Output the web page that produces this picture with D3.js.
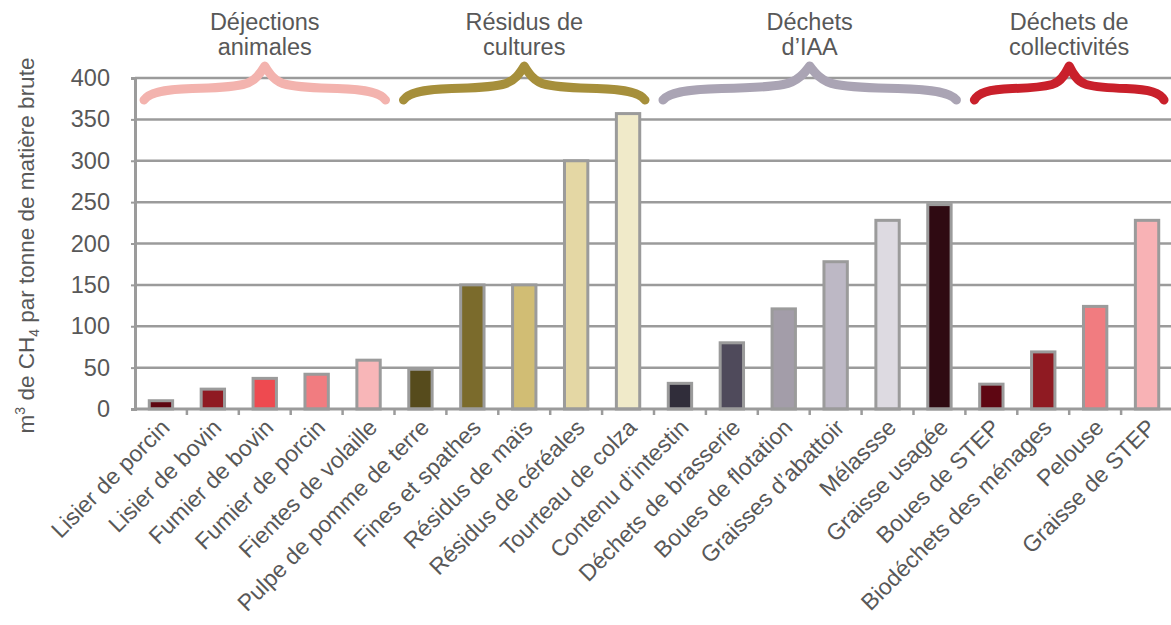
<!DOCTYPE html>
<html>
<head>
<meta charset="utf-8">
<script src="https://cdn.jsdelivr.net/npm/d3@7"></script>
<style>
  html, body { margin: 0; padding: 0; background: #fff; }
  svg { display: block; }
  text { font-family: "Liberation Sans", Arial, sans-serif; fill: #585858; }
</style>
</head>
<body>
<svg id="chart" width="1171" height="625"></svg>
<script>
// Methane potential by substrate (m³ CH4 per tonne of raw matter)
const categories = [
  "Lisier de porcin", "Lisier de bovin", "Fumier de bovin", "Fumier de porcin", "Fientes de volaille",
  "Pulpe de pomme de terre", "Fines et spathes", "Résidus de maïs", "Résidus de céréales", "Tourteau de colza",
  "Contenu d’intestin", "Déchets de brasserie", "Boues de flotation", "Graisses d’abattoir", "Mélassse", "Graisse usagée",
  "Boues de STEP", "Biodéchets des ménages", "Pelouse", "Graisse de STEP"
];
const values = [10, 24, 37, 42, 59, 48, 150, 150, 300, 357, 31, 80, 121, 178, 228, 247, 30, 69, 124, 228];
const barColors = [
  "#5e0612", "#8f1a22", "#ee4a50", "#f17c80", "#f8b6b8",
  "#564b1c", "#7b6b2c", "#d1bd74", "#e4d7a4", "#f0eac9",
  "#302d3a", "#4f4a5b", "#a39da9", "#bdb8c5", "#dddae1", "#2f0a12",
  "#5e0612", "#8f1a22", "#f17c80", "#f8b2b5"
];
const groupNames = [["Déjections", "animales"], ["Résidus de", "cultures"], ["Déchets", "d’IAA"], ["Déchets de", "collectivités"]];
const groupSizes = [5, 5, 6, 4];
const groupColors = ["#f3b3ae", "#a68f3b", "#aaa4b4", "#c9202b"];
const yTicks = [0, 50, 100, 150, 200, 250, 300, 350, 400];

const svg = d3.select("#chart");
const plotLeft = 135, plotRight = 1173, plotTop = 78, plotBottom = 409;
const grid = "#9b9b9b";
const fs = 23.5;

const x = d3.scaleBand().domain(categories).range([plotLeft, plotRight]).paddingInner(0.55).paddingOuter(0.275);
const step = x.step();
const y = d3.scaleLinear().domain([0, 400]).range([plotBottom, plotTop]);

// horizontal gridlines
svg.append("g").selectAll("line").data(yTicks.filter(d => d > 0)).join("line")
  .attr("x1", plotLeft).attr("x2", 1171)
  .attr("y1", d => y(d)).attr("y2", d => y(d))
  .attr("stroke", grid).attr("stroke-width", 2.5);

// y axis
const yAxis = svg.append("g").attr("transform", `translate(${plotLeft},0)`)
  .call(d3.axisLeft(y).tickValues(yTicks).tickSize(4).tickPadding(21));
yAxis.select(".domain").attr("stroke", grid).attr("stroke-width", 3);
yAxis.selectAll(".tick line").attr("stroke", grid).attr("stroke-width", 2);
yAxis.selectAll(".tick text").attr("font-size", fs).attr("fill", "#585858")
  .attr("font-family", "Liberation Sans, Arial, sans-serif");

// y title
const yt = svg.append("text")
  .attr("transform", `translate(34,${(plotTop + plotBottom) / 2 + 2}) rotate(-90)`)
  .attr("text-anchor", "middle").attr("font-size", 22.5);
yt.append("tspan").text("m");
yt.append("tspan").attr("font-size", 14).attr("dy", -9).text("3");
yt.append("tspan").attr("dy", 9).text(" de CH");
yt.append("tspan").attr("font-size", 14).attr("dy", 5).text("4");
yt.append("tspan").attr("dy", -5).text(" par tonne de matière brute");

// bars
svg.append("g").selectAll("rect").data(categories).join("rect")
  .attr("x", d => x(d))
  .attr("y", (d, i) => y(values[i]))
  .attr("width", x.bandwidth())
  .attr("height", (d, i) => y(0) - y(values[i]))
  .attr("fill", (d, i) => barColors[i])
  .attr("stroke", grid).attr("stroke-width", 3);

// x axis baseline with ticks between categories
svg.append("line").attr("x1", plotLeft).attr("x2", 1171).attr("y1", plotBottom).attr("y2", plotBottom)
  .attr("stroke", grid).attr("stroke-width", 3);
svg.append("g").selectAll("line").data(d3.range(1, categories.length)).join("line")
  .attr("x1", i => plotLeft + i * step).attr("x2", i => plotLeft + i * step)
  .attr("y1", plotBottom).attr("y2", plotBottom + 6)
  .attr("stroke", grid).attr("stroke-width", 2.5);

// rotated category labels
svg.append("g").selectAll("text").data(categories).join("text")
  .attr("transform", d => `translate(${x(d) + x.bandwidth() / 2 + 10},${plotBottom + 20}) rotate(-45)`)
  .attr("text-anchor", "end").attr("font-size", 23)
  .text(d => d);

// group braces and titles
let start = 0;
groupSizes.forEach((n, g) => {
  const x0 = plotLeft + start * step + 9;
  const x1 = plotLeft + (start + n) * step - 9;
  const c = (x0 + x1) / 2;
  const w = x1 - x0;
  const yEnd = 100, yPeak = 66;
  const p = d3.path();
  p.moveTo(x0, yEnd);
  p.bezierCurveTo(x0 + 0.02 * w, 93, x0 + 0.07 * w, 89.5, x0 + 0.2 * w, 88.5);
  p.bezierCurveTo(x0 + 0.3 * w, 88, x0 + 0.36 * w, 87, x0 + 0.41 * w, 84.5);
  p.bezierCurveTo(x0 + 0.46 * w, 82, x0 + 0.485 * w, 72, c, yPeak);
  p.bezierCurveTo(x1 - 0.485 * w, 72, x1 - 0.46 * w, 82, x1 - 0.41 * w, 84.5);
  p.bezierCurveTo(x1 - 0.36 * w, 87, x1 - 0.3 * w, 88, x1 - 0.2 * w, 88.5);
  p.bezierCurveTo(x1 - 0.07 * w, 89.5, x1 - 0.02 * w, 93, x1, yEnd);
  svg.append("path").attr("d", p.toString())
    .attr("fill", "none").attr("stroke", groupColors[g]).attr("stroke-width", 9)
    .attr("stroke-linecap", "round").attr("stroke-linejoin", "round");
  const t = svg.append("text").attr("text-anchor", "middle").attr("font-size", fs);
  t.append("tspan").attr("x", c).attr("y", 30).text(groupNames[g][0]);
  t.append("tspan").attr("x", c).attr("y", 55).text(groupNames[g][1]);
  start += n;
});
</script>
</body>
</html>
